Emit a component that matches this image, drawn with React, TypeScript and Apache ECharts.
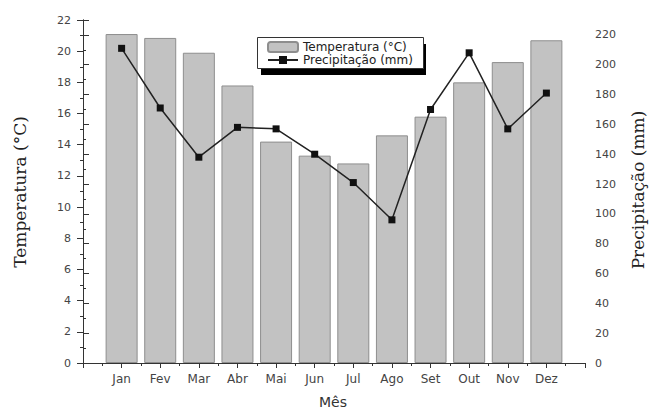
import React, { useEffect, useRef } from "react";
import * as echarts from "echarts";

const months = ["Jan", "Fev", "Mar", "Abr", "Mai", "Jun", "Jul", "Ago", "Set", "Out", "Nov", "Dez"];
const temperature = [21.1, 20.85, 19.9, 17.8, 14.2, 13.3, 12.8, 14.6, 15.8, 18.0, 19.3, 20.7];
const precipitation = [211, 171, 138, 158, 157, 140, 121, 96, 170, 208, 157, 181];
const tempAxis = { min: 0, max: 22, step: 2 };
const precAxis = { min: 0, max: 230, step: 20, lastLabel: 220 };

const labelFont = "DejaVu Sans";

export default function App() {
  const ref = useRef<HTMLDivElement>(null);
  useEffect(() => {
    if (!ref.current) return;
    const chart = echarts.init(ref.current, undefined, { renderer: "svg" });
    const axisLine = { show: true, lineStyle: { color: "#333", width: 1 } };
    const baseX = {
      type: "value",
      min: 0,
      max: months.length + 1,
      interval: 1,
      axisLine,
      splitLine: { show: false },
      minorSplitLine: { show: false },
      minorTick: { show: true, splitNumber: 2, length: 3, lineStyle: { color: "#333" } },
    };
    chart.setOption({
      animation: false,
      backgroundColor: "#fff",
      grid: { left: 83, right: 66, top: 20, bottom: 47, containLabel: false },
      xAxis: [
        {
          ...baseX,
          position: "bottom",
          axisTick: { show: true, inside: false, length: 5, lineStyle: { color: "#333" } },
          axisLabel: {
            formatter: (v: number) => months[v - 1] ?? "",
            margin: 10,
            fontSize: 12,
            fontFamily: labelFont,
            color: "#444",
          },
        },
        {
          ...baseX,
          position: "top",
          axisTick: { show: true, inside: true, length: 5, lineStyle: { color: "#333" } },
          axisLabel: { show: false },
        },
      ],
      yAxis: [
        {
          type: "value",
          position: "left",
          min: tempAxis.min,
          max: tempAxis.max,
          interval: tempAxis.step,
          axisLine,
          axisTick: { show: true, inside: false, length: 6, lineStyle: { color: "#333" } },
          minorTick: { show: true, splitNumber: 2, length: 3, lineStyle: { color: "#333" } },
          splitLine: { show: false },
          axisLabel: { margin: 12, fontSize: 11, fontFamily: labelFont, color: "#444" },
        },
        {
          type: "value",
          position: "right",
          min: precAxis.min,
          max: precAxis.max,
          interval: precAxis.step,
          axisLine,
          axisTick: { show: true, inside: false, length: 6, lineStyle: { color: "#333" } },
          minorTick: { show: true, splitNumber: 2, length: 3, lineStyle: { color: "#333" } },
          splitLine: { show: false },
          axisLabel: {
            margin: 10,
            fontSize: 11,
            fontFamily: labelFont,
            color: "#444",
            formatter: (v: number) => (v % precAxis.step === 0 && v <= precAxis.lastLabel ? String(v) : ""),
          },
        },
      ],
      legend: {
        orient: "vertical",
        left: 267,
        top: 41,
        padding: 0,
        itemWidth: 30,
        itemHeight: 10,
        itemGap: 1,
        z: 10,
        textStyle: { fontFamily: labelFont, fontSize: 12, color: "#222" },
        data: ["Temperatura (°C)", "Precipitação (mm)"],
      },
      graphic: [
        { type: "rect", z: 5, shape: { x: 261, y: 44, width: 165, height: 31 }, style: { fill: "#000" } },
        {
          type: "rect",
          z: 6,
          shape: { x: 257.5, y: 37.5, width: 166, height: 31 },
          style: { fill: "#fff", stroke: "#333", lineWidth: 1 },
        },
        {
          type: "text",
          x: 20,
          y: 192,
          rotation: Math.PI / 2,
          style: {
            text: "Temperatura (°C)",
            fontSize: 17,
            fontFamily: "DejaVu Serif",
            fill: "#222",
            align: "center",
            verticalAlign: "middle",
          },
        },
        {
          type: "text",
          x: 638,
          y: 190,
          rotation: Math.PI / 2,
          style: {
            text: "Precipitação (mm)",
            fontSize: 17,
            fontFamily: "DejaVu Serif",
            fill: "#222",
            align: "center",
            verticalAlign: "middle",
          },
        },
        {
          type: "text",
          x: 333,
          y: 402,
          style: {
            text: "Mês",
            fontSize: 14,
            fontFamily: labelFont,
            fill: "#333",
            align: "center",
            verticalAlign: "middle",
          },
        },
      ],
      series: [
        {
          name: "Temperatura (°C)",
          type: "bar",
          xAxisIndex: 0,
          yAxisIndex: 0,
          barWidth: 32,
          data: months.map((_, i) => [i + 1, temperature[i]]),
          itemStyle: { color: "#c2c2c2", borderColor: "#8e8e8e", borderWidth: 1 },
        },
        {
          name: "Precipitação (mm)",
          type: "line",
          xAxisIndex: 0,
          yAxisIndex: 1,
          data: months.map((_, i) => [i + 1, precipitation[i]]),
          symbol: "rect",
          symbolSize: 7,
          lineStyle: { color: "#222", width: 1.5 },
          itemStyle: { color: "#111" },
          z: 3,
        },
      ],
    });
    return () => chart.dispose();
  }, []);
  return <div ref={ref} style={{ width: 651, height: 410, position: "absolute", left: 0, top: 0 }} />;
}
